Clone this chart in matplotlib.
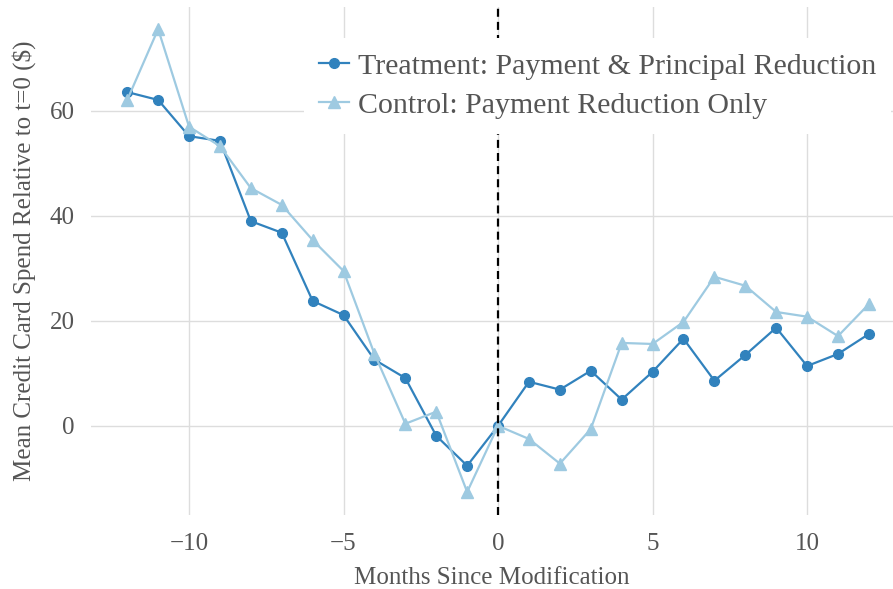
import matplotlib
matplotlib.use("Agg")
import matplotlib.pyplot as plt

months = list(range(-12, 13))
treatment = [63.6, 62.1, 55.2, 54.3, 39.0, 36.8, 23.8, 21.1, 12.6, 9.1, -1.9, -7.6,
             0.0, 8.4, 6.9, 10.5, 5.0, 10.3, 16.6, 8.6, 13.5, 18.7, 11.4, 13.7, 17.5]
control = [62.1, 75.6, 57.0, 53.3, 45.3, 42.1, 35.4, 29.5, 13.7, 0.4, 2.7, -12.6,
           0.0, -2.5, -7.2, -0.6, 15.8, 15.6, 19.8, 28.4, 26.7, 21.7, 20.8, 17.1, 23.2]
xticks = [-10, -5, 0, 5, 10]
yticks = [0, 20, 40, 60]
labels = ["Treatment: Payment & Principal Reduction", "Control: Payment Reduction Only"]

plt.rcParams['font.family'] = ['Liberation Serif', 'DejaVu Serif']
txt = '#555555'

fig = plt.figure(figsize=(8.93, 5.89), dpi=100)
ax = fig.add_axes([0.102, 0.126, 0.898, 0.862])

ax.plot(months, treatment, color='#3182bd', marker='o', markersize=7, linewidth=1.6,
        label=labels[0], zorder=2)
ax.plot(months, control, color='#9ecae1', marker='^', markersize=9, linewidth=1.6,
        label=labels[1], zorder=3)
ax.axvline(0, color='black', linestyle=(0, (3.6, 2.3)), linewidth=1.6, zorder=4)

ax.set_xlim(-13.17, 12.78)
ax.set_ylim(-16.95, 79.8)
ax.set_xticks(xticks)
ax.set_yticks(yticks)
ax.set_xticklabels(['\u2212' + str(-t) if t < 0 else str(t) for t in xticks])
ax.grid(True, color='#dddddd', linewidth=1.0)
ax.set_axisbelow(True)
for s in ax.spines.values():
    s.set_visible(False)
ax.tick_params(length=0, labelsize=18, colors=txt)
ax.tick_params(axis='x', pad=13)
ax.tick_params(axis='y', pad=12)
ax.set_xlabel('Months Since Modification', fontsize=18, color=txt, labelpad=9)
ax.set_ylabel('Mean Credit Card Spend Relative to t=0 ($)', fontsize=18, color=txt, labelpad=10)

leg = ax.legend(loc='upper left', bbox_to_anchor=(0.266, 0.939), frameon=True, fontsize=21.5,
                handlelength=1.0, handletextpad=0.3, labelspacing=0.4, borderpad=0.5,
                borderaxespad=0)
leg.get_frame().set_facecolor('white')
leg.get_frame().set_edgecolor('none')
leg.get_frame().set_alpha(1.0)
for t in leg.get_texts():
    t.set_color(txt)

fig.savefig('out.png', dpi=100)
